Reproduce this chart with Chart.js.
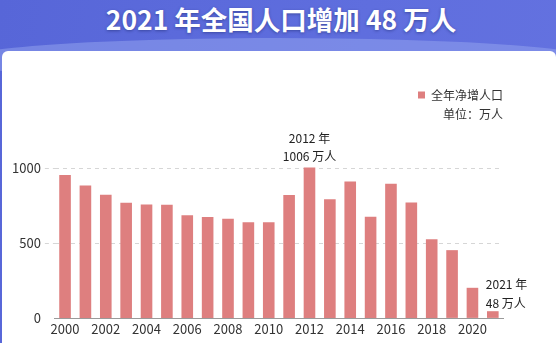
<!DOCTYPE html>
<html>
<head>
<meta charset="utf-8">
<script src="https://cdn.jsdelivr.net/npm/chart.js@4"></script>
<style>
  html, body { margin: 0; padding: 0; }
  body {
    width: 556px; height: 343px; overflow: hidden; position: relative;
    background: linear-gradient(100deg, #5766d8 0%, #5f6ede 60%, #6472e0 100%);
    font-family: "Noto Sans CJK SC", "Noto Sans", sans-serif;
  }
  .glow {
    position: absolute; left: -40px; top: 38px; width: 636px; height: 44px;
    border-radius: 50%; background: rgba(150, 165, 240, 0.5);
  }
  .card {
    position: absolute; left: 2px; top: 51px; width: 554px; height: 300px;
    background: #ffffff; border-top-left-radius: 6px; border-top-right-radius: 6px;
  }
  .title {
    position: absolute; left: 0; top: 0; width: 562px; height: 37px;
    text-align: center; line-height: 37px;
    color: #ffffff; font-size: 26.5px; font-weight: bold;
    text-shadow: 0 1px 3px rgba(20, 30, 90, 0.45);
    font-family: "Noto Sans CJK SC", sans-serif;
  }
  canvas { position: absolute; left: 0; top: 0; }
</style>
</head>
<body>
<div class="glow"></div>
<div class="card"></div>
<div class="title">2021 年全国人口增加 48 万人</div>
<canvas id="chart" width="556" height="343"></canvas>
<script>
// Annual net population increase (万人)
const years = ['2000','2001','2002','2003','2004','2005','2006','2007','2008','2009','2010',
               '2011','2012','2013','2014','2015','2016','2017','2018','2019','2020','2021'];
const netIncrease = [956, 886, 824, 771, 759, 758, 687, 676, 664, 641, 641,
                     822, 1006, 795, 913, 678, 898, 773, 527, 455, 204, 48];
const yTicks = [0, 500, 1000];
const seriesName = '全年净增人口';
const unitText = '单位：万人';
// Years that get a callout above their bar
const calloutYears = ['2012', '2021'];

const FONT = '"Noto Sans CJK SC", "Noto Sans", sans-serif';
const BAR = '#de7f7f';

const callouts = {
  id: 'callouts',
  afterDatasetsDraw(chart) {
    const ctx = chart.ctx;
    const meta = chart.getDatasetMeta(0);
    ctx.save();
    ctx.font = '12px ' + FONT;
    ctx.fillStyle = '#222';
    ctx.textBaseline = 'middle';
    calloutYears.forEach(y => {
      const i = years.indexOf(y);
      const bar = meta.data[i];
      const lines = [y + ' 年', netIncrease[i] + ' 万人'];
      if (i === years.length - 1) {
        ctx.textAlign = 'left';
        const x0 = bar.x - 7;
        ctx.fillText(lines[0], x0, bar.y - 27);
        ctx.fillText(lines[1], x0, bar.y - 8);
      } else {
        ctx.textAlign = 'center';
        ctx.fillText(lines[0], bar.x, bar.y - 29);
        ctx.fillText(lines[1], bar.x, bar.y - 11);
      }
    });
    ctx.restore();
  }
};

new Chart(document.getElementById('chart'), {
  type: 'bar',
  data: {
    labels: years,
    datasets: [{
      label: seriesName,
      data: netIncrease,
      backgroundColor: BAR,
      borderWidth: 0,
      barPercentage: 0.57,
      categoryPercentage: 1.0,
      clip: false
    }]
  },
  options: {
    responsive: false,
    animation: false,
    layout: { padding: { top: 89, left: 8, right: 53, bottom: 3 } },
    plugins: {
      legend: {
        position: 'top',
        align: 'end',
        labels: {
          font: { family: FONT, size: 12 },
          color: '#333',
          boxWidth: 7,
          boxHeight: 7,
          padding: 0
        }
      },
      subtitle: {
        display: true,
        text: unitText,
        position: 'top',
        align: 'end',
        weight: 500,
        color: '#333',
        font: { family: FONT, size: 12 },
        padding: { top: -4, bottom: 47 }
      },
      tooltip: { enabled: false }
    },
    scales: {
      x: {
        grid: { display: false, drawTicks: false },
        border: { display: true, color: '#9a9a9a', width: 1 },
        ticks: {
          color: '#333',
          font: { family: FONT, size: 13 },
          padding: 3,
          autoSkip: false,
          maxRotation: 0,
          callback: (v, i) => (i % 2 === 0 ? years[i] : '')
        }
      },
      y: {
        min: 0,
        max: 1000,
        afterBuildTicks: axis => { axis.ticks = yTicks.map(v => ({ value: v })); },
        grid: {
          color: ctx => (ctx.tick && ctx.tick.value === 0 ? 'rgba(0,0,0,0)' : '#d6d6d6'),
          tickColor: ctx => (ctx.tick && ctx.tick.value === 0 ? 'rgba(0,0,0,0)' : '#d6d6d6'),
          tickLength: 10,
          tickBorderDash: [4, 4]
        },
        border: { display: false, dash: [4, 4] },
        ticks: {
          color: '#333',
          font: { family: FONT, size: 13 },
          padding: 4,
          callback: v => String(v)
        }
      }
    }
  },
  plugins: [callouts]
});
</script>
</body>
</html>
